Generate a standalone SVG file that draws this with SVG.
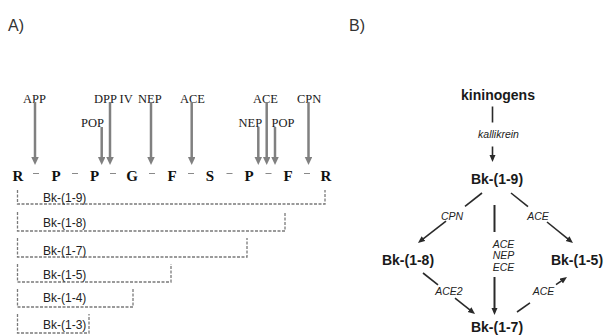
<svg xmlns="http://www.w3.org/2000/svg" width="604" height="335" viewBox="0 0 604 335">
<style>
.panel{font-family:"Liberation Sans",Arial,sans-serif;font-size:16px;fill:#333}
.enz{font-family:"Liberation Serif","Times New Roman",serif;font-size:12.5px;fill:#1a1a1a}
.aa{font-family:"Liberation Serif","Times New Roman",serif;font-size:15px;font-weight:bold;fill:#111;text-anchor:middle}
.frag{font-family:"Liberation Sans",Arial,sans-serif;font-size:12px;fill:#222}
.node{font-family:"Liberation Sans",Arial,sans-serif;font-size:14px;font-weight:bold;fill:#1a1a1a;text-anchor:middle}
.elab{font-family:"Liberation Sans",Arial,sans-serif;font-size:10.5px;font-style:italic;fill:#222;text-anchor:middle}
.garrow{stroke:#808080;stroke-width:2.5;fill:none}
.dash{stroke:#8a8a8a;stroke-width:1.2;fill:none}
.bracket{stroke:#7a7a7a;stroke-width:1.3;fill:none;stroke-dasharray:3 1.5}
.barrow{stroke:#2a2a2a;stroke-width:1.6;fill:none}
</style>
<defs>
<marker id="gh" markerUnits="userSpaceOnUse" markerWidth="9" markerHeight="8" refX="2" refY="3.75" orient="auto">
<path d="M0,0 L8,3.75 L0,7.5 z" fill="#808080"/>
</marker>
<marker id="bh" markerUnits="userSpaceOnUse" markerWidth="8" markerHeight="7" refX="2" refY="3" orient="auto">
<path d="M0,0 L7,3 L0,6 z" fill="#2a2a2a"/>
</marker>
</defs>
<rect width="604" height="335" fill="#fff"/>
<text class="panel" x="8" y="31">A)</text>
<text class="panel" x="349" y="31">B)</text>

<!-- Panel A: sequence -->
<g id="sequence">
<text class="aa" x="18" y="181">R</text>
<text class="aa" x="56" y="181">P</text>
<text class="aa" x="94.5" y="181">P</text>
<text class="aa" x="132" y="181">G</text>
<text class="aa" x="172" y="181">F</text>
<text class="aa" x="210" y="181">S</text>
<text class="aa" x="249" y="181">P</text>
<text class="aa" x="288" y="181">F</text>
<text class="aa" x="326" y="181">R</text>
<path class="dash" d="M33,173.5h6M72,173.5h6M110,173.5h6M149,173.5h6M188,173.5h6M226.5,173.5h6M265.5,173.5h6M304,173.5h6"/>
</g>

<g id="enzymes-A">
<text class="enz" x="23" y="103">APP</text>
<text class="enz" x="94" y="103">DPP IV</text>
<text class="enz" x="138" y="103">NEP</text>
<text class="enz" x="180" y="103">ACE</text>
<text class="enz" x="253" y="103">ACE</text>
<text class="enz" x="297" y="103">CPN</text>
<text class="enz" x="81" y="127">POP</text>
<text class="enz" x="238.5" y="127">NEP</text>
<text class="enz" x="271.5" y="127">POP</text>
</g>

<g id="connectors-A">
<line class="garrow" x1="35" y1="102" x2="35" y2="159" marker-end="url(#gh)"/>
<line class="garrow" x1="101.7" y1="127" x2="101.7" y2="159" marker-end="url(#gh)"/>
<line class="garrow" x1="110" y1="102" x2="110" y2="159" marker-end="url(#gh)"/>
<line class="garrow" x1="151" y1="102" x2="151" y2="159" marker-end="url(#gh)"/>
<line class="garrow" x1="191.7" y1="102" x2="191.7" y2="159" marker-end="url(#gh)"/>
<line class="garrow" x1="258.3" y1="127" x2="258.3" y2="159" marker-end="url(#gh)"/>
<line class="garrow" x1="266.7" y1="102" x2="266.7" y2="159" marker-end="url(#gh)"/>
<line class="garrow" x1="275" y1="127" x2="275" y2="159" marker-end="url(#gh)"/>
<line class="garrow" x1="308.5" y1="102" x2="308.5" y2="159" marker-end="url(#gh)"/>
</g>

<g id="fragments-A">
<g id="frag-1-9"><path class="bracket" d="M17.5,190V204H325V190"/><text class="frag" x="43" y="202">Bk-(1-9)</text></g>
<g id="frag-1-8"><path class="bracket" d="M17.5,212V231H285V212"/><text class="frag" x="43" y="227">Bk-(1-8)</text></g>
<g id="frag-1-7"><path class="bracket" d="M17.5,238V257H247V238"/><text class="frag" x="43" y="255">Bk-(1-7)</text></g>
<g id="frag-1-5"><path class="bracket" d="M17.5,264V282H171V264"/><text class="frag" x="43" y="279">Bk-(1-5)</text></g>
<g id="frag-1-4"><path class="bracket" d="M17.5,289V307H133V289"/><text class="frag" x="43" y="302">Bk-(1-4)</text></g>
<g id="frag-1-3"><path class="bracket" d="M17.5,314V333H89V314"/><text class="frag" x="43" y="329">Bk-(1-3)</text></g>
</g>

<!-- Panel B -->
<g id="kininogens"><text class="node" x="498" y="100">kininogens</text></g>
<g id="bk19"><text class="node" x="497" y="184">Bk-(1-9)</text></g>
<g id="bk18"><text class="node" x="408" y="265">Bk-(1-8)</text></g>
<g id="bk15"><text class="node" x="577" y="265">Bk-(1-5)</text></g>
<g id="bk17"><text class="node" x="497" y="332">Bk-(1-7)</text></g>

<g id="connectors-B">
<line class="barrow" x1="492.5" y1="106.5" x2="492.5" y2="122.5"/>
<line class="barrow" x1="492.5" y1="146.5" x2="492.5" y2="157" marker-end="url(#bh)"/>
<text class="elab" x="498.5" y="138">kallikrein</text>

<line class="barrow" x1="482" y1="193" x2="465" y2="206.3"/>
<line class="barrow" x1="446" y1="221.1" x2="421.9" y2="239.9" marker-end="url(#bh)"/>
<text class="elab" x="452" y="219.5">CPN</text>

<line class="barrow" x1="511" y1="193" x2="528" y2="206.7"/>
<line class="barrow" x1="547" y1="222" x2="569.1" y2="239.9" marker-end="url(#bh)"/>
<text class="elab" x="538" y="219.5">ACE</text>

<line class="barrow" x1="494.5" y1="205" x2="494.5" y2="232" style="stroke-width:2"/>
<line class="barrow" x1="494.5" y1="277" x2="494.5" y2="310" style="stroke-width:2" marker-end="url(#bh)"/>
<text class="elab" x="503.5" y="247.5">ACE</text>
<text class="elab" x="503.5" y="259">NEP</text>
<text class="elab" x="503.5" y="270.5">ECE</text>

<line class="barrow" x1="423" y1="273" x2="438" y2="284.8"/>
<line class="barrow" x1="455" y1="298.2" x2="471.1" y2="310.9" marker-end="url(#bh)"/>
<text class="elab" x="449" y="294.5">ACE2</text>

<line class="barrow" x1="517" y1="312" x2="530" y2="302.9"/>
<line class="barrow" x1="556" y1="284.7" x2="562.9" y2="279.9" marker-end="url(#bh)"/>
<text class="elab" x="543.5" y="294.5">ACE</text>
</g>
</svg>
